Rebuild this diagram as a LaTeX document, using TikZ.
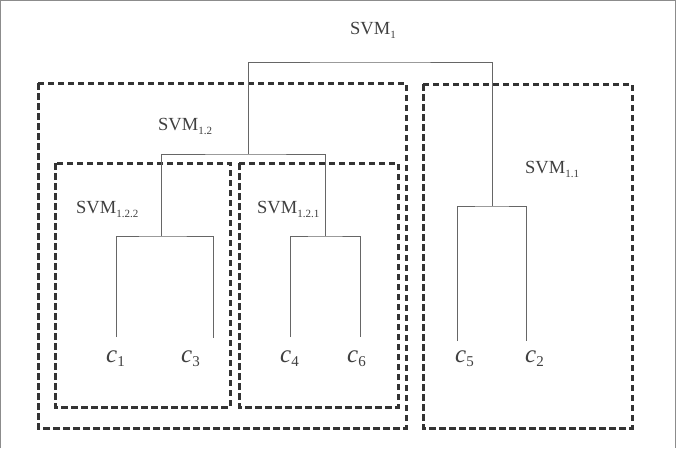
\documentclass[tikz,border=0pt]{standalone}
\usepackage{fontspec}
\setmainfont{Liberation Serif}
\newcommand{\svm}[1]{SVM\raisebox{-0.55ex}{\fontsize{11}{11}\selectfont #1}}
\newcommand{\cls}[1]{\textit{c}\raisebox{-0.35ex}{\fontsize{15}{15}\selectfont #1}}

\begin{document}
\begin{tikzpicture}[x=1pt, y=-1pt,
    branch/.style={draw=black!60, line width=0.9pt},
    group/.style={draw=black!80, line width=3pt, dash pattern=on 6.5pt off 3.5pt},
    lbl/.style={anchor=base west, inner sep=0pt, text=black!75, font=\fontsize{18.5}{18.5}\selectfont},
    leaf/.style={anchor=base west, inner sep=0pt, text=black!75, font=\fontsize{25}{25}\selectfont}]
  \useasboundingbox (0,0) rectangle (677,448);
  % frame
  \draw[black!45, line width=1pt] (0.5,448) -- (0.5,0.5) -- (675.5,0.5) -- (675.5,448);

  % groups
  \draw[group] (38,83)   rectangle (406,428);
  \draw[group] (423,84)  rectangle (632,428);
  \draw[group] (55,163)  rectangle (230,407);
  \draw[group] (239,163) rectangle (398,407);

  % labels
  \node[lbl] (s1)   at (350,34)  {\svm{1}};
  \node[lbl] (s12)  at (158,130) {\svm{1.2}};
  \node[lbl] (s122) at (76,213)  {\svm{1.2.2}};
  \node[lbl] (s121) at (257,213) {\svm{1.2.1}};
  \node[lbl] (s11)  at (525,173) {\svm{1.1}};

  % classes
  \node[leaf] (c1) at (106,362) {\cls{1}};
  \node[leaf] (c3) at (181,362) {\cls{3}};
  \node[leaf] (c4) at (280,362) {\cls{4}};
  \node[leaf] (c6) at (347,362) {\cls{6}};
  \node[leaf] (c5) at (455,362) {\cls{5}};
  \node[leaf] (c2) at (525,362) {\cls{2}};

  % leaf ends and joins
  \coordinate (e1) at (116,337);
  \coordinate (e3) at (213,338);
  \coordinate (e4) at (290,337);
  \coordinate (e6) at (360,337);
  \coordinate (e5) at (457,341);
  \coordinate (e2) at (526,341);
  \coordinate (k13) at (161,236);
  \coordinate (k46) at (325,236);
  \coordinate (k52) at (492,206);
  \coordinate (k12) at (248,154);
  \coordinate (k0)  at (370,62);

  % dendrogram
  \draw[branch] (e1) |- (k13) -| (e3);
  \draw[branch] (e4) |- (k46) -| (e6);
  \draw[branch] (e5) |- (k52) -| (e2);
  \draw[branch] (k13) |- (k12) -| (k46);
  \draw[branch] (k12) |- (k0) -| (k52);
\end{tikzpicture}
\end{document}
